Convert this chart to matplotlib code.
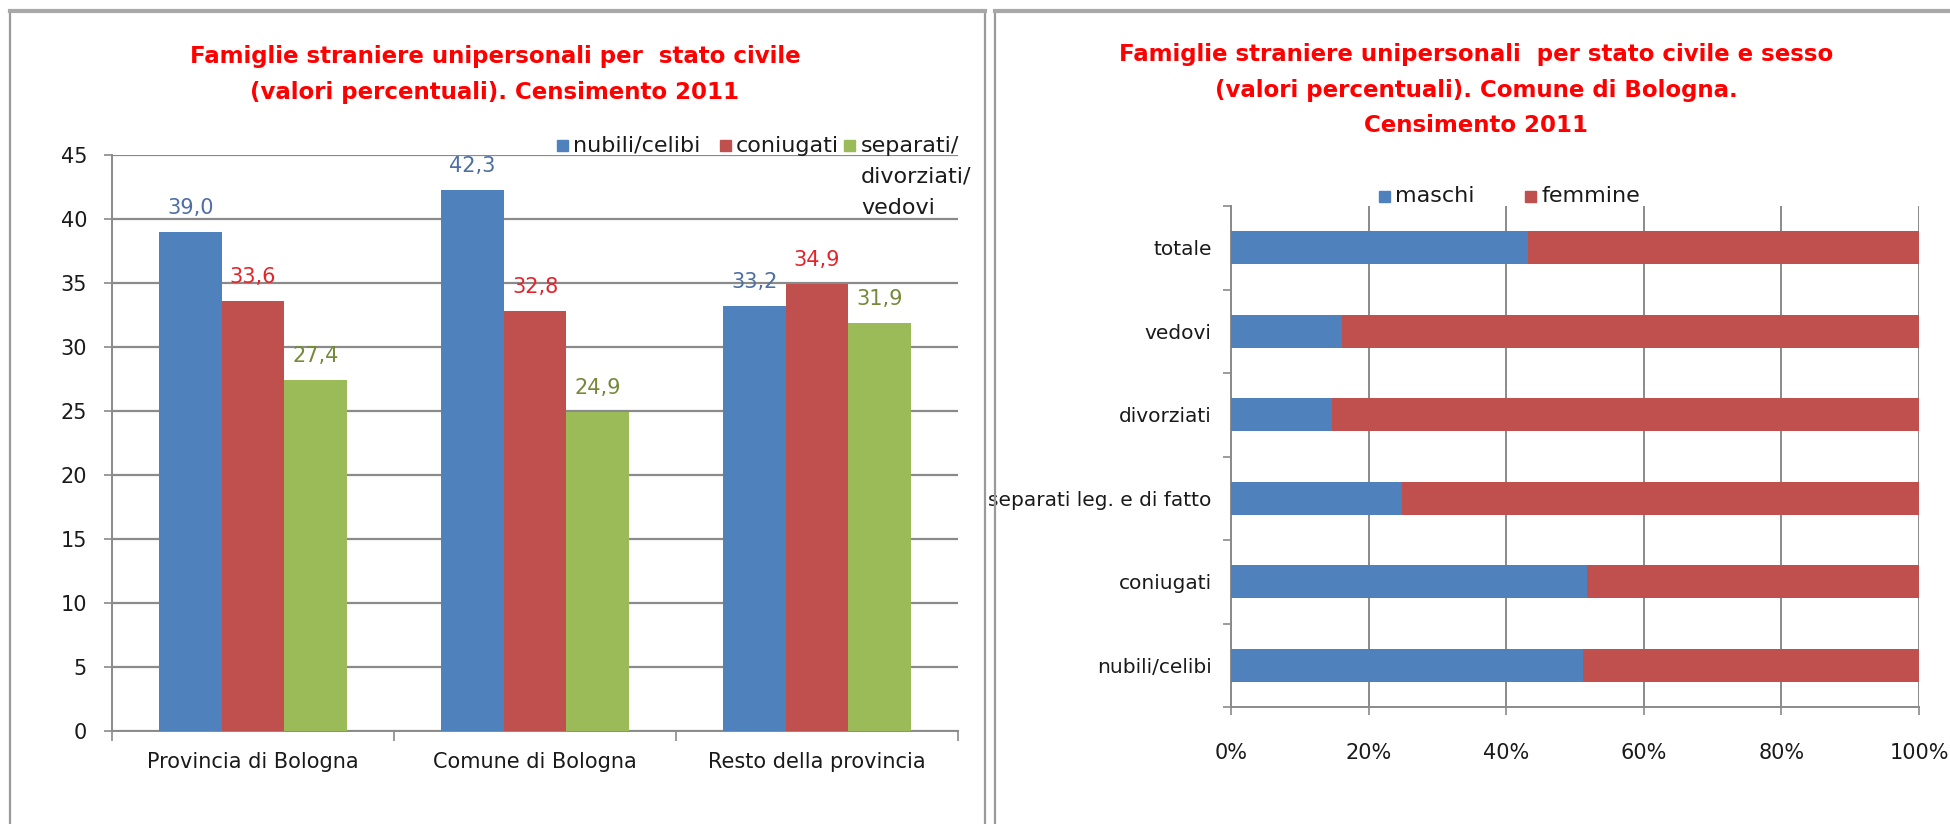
import matplotlib
matplotlib.use("Agg")
import matplotlib.pyplot as plt
from matplotlib.patches import Rectangle
from matplotlib.ticker import PercentFormatter, MultipleLocator

# ── Data ────────────────────────────────────────────────────────────────────────
aree      = ["Provincia di Bologna", "Comune di Bologna", "Resto della provincia"]
nubili    = [39.0, 42.3, 33.2]
coniugati = [33.6, 32.8, 34.9]
separati  = [27.4, 24.9, 31.9]
serie_sx  = ["nubili/celibi", "coniugati", "separati/\ndivorziati/\nvedovi"]

stati   = ["nubili/celibi", "coniugati", "separati leg. e di fatto",
           "divorziati", "vedovi", "totale"]
maschi  = [51.1, 51.8, 24.8, 14.7, 16.1, 43.1]
femmine = [48.9, 48.2, 75.2, 85.3, 83.9, 56.9]
serie_dx = ["maschi", "femmine"]

title_sx = "Famiglie straniere unipersonali per  stato civile\n(valori percentuali). Censimento 2011"
title_dx = ("Famiglie straniere unipersonali  per stato civile e sesso\n"
            "(valori percentuali). Comune di Bologna.\nCensimento 2011")

BLUE, RED, GREEN = '#4F81BD', '#C0504D', '#9BBB59'
LBL_COL = ['#4e6fa3', '#e3252b', '#76893a']
GRID = '#8a8a8a'
TXT = '#1a1a1a'
FS = 15

W, H = 1950, 824
fig = plt.figure(figsize=(W / 100, H / 100), dpi=100)
fig.patch.set_facecolor('white')


def fx(x):
    return x / W


def fy(y):
    return 1 - y / H


# ── Panel borders ───────────────────────────────────────────────────────────────
for x0, x1 in [(10, 985), (995, 1960)]:
    fig.add_artist(Rectangle((fx(x0), -0.02), fx(x1) - fx(x0), fy(11) + 0.02,
                             transform=fig.transFigure, fill=False,
                             edgecolor='#9a9a9a', lw=1.6))
    fig.add_artist(plt.Line2D([fx(x0), fx(x1)], [fy(11), fy(11)],
                              transform=fig.transFigure, color='#a8a8a8', lw=3))

# ── Left chart: grouped bars ────────────────────────────────────────────────────
ax = fig.add_axes([fx(112), fy(731), fx(958) - fx(112), (731 - 155) / H])
w = 1 / 4.5
xs = list(range(len(aree)))
for i, (vals, col) in enumerate(zip([nubili, coniugati, separati], [BLUE, RED, GREEN])):
    pos = [x + (i - 1) * w for x in xs]
    ax.bar(pos, vals, width=w, color=col, zorder=3)
    for p, v in zip(pos, vals):
        ax.annotate(f"{v:.1f}".replace('.', ','), (p, v), xytext=(0, 10),
                    textcoords='offset points', ha='center', va='bottom',
                    fontsize=FS, color=LBL_COL[i])

ax.set_xlim(-0.5, 2.5)
ax.set_ylim(0, 45)
ax.yaxis.set_major_locator(MultipleLocator(5))
ax.grid(axis='y', color=GRID, lw=1.6, zorder=0)
ax.set_xticks(xs)
ax.set_xticklabels(aree)
ax.set_xticks([-0.5, 0.5, 1.5, 2.5], minor=True)
ax.tick_params(axis='x', which='major', length=0, pad=15, labelsize=FS, labelcolor=TXT)
ax.tick_params(axis='x', which='minor', length=7, width=1.2, color=GRID)
ax.tick_params(axis='y', length=6, width=1.2, color=GRID, pad=12, labelsize=FS, labelcolor=TXT)
for s in ['top', 'right']:
    ax.spines[s].set_visible(False)
for s in ['left', 'bottom']:
    ax.spines[s].set_color(GRID)
    ax.spines[s].set_linewidth(1.4)

fig.text(fx(495), fy(74.5), title_sx, ha='center', va='center', fontsize=16.5,
         fontweight='bold', color='#ff0000', linespacing=1.69)

# legend (drawn by hand so the wrapped label keeps its first line aligned)
for (sx, tx), lab, col in zip([(562, 573), (725, 736), (849, 861)], serie_sx, [BLUE, RED, GREEN]):
    fig.add_artist(Rectangle((fx(sx - 5), fy(151)), 11 / W, 11 / H,
                             transform=fig.transFigure, color=col))
    fig.text(fx(tx), fy(145.5), lab.split('\n')[0], ha='left', va='center',
             fontsize=16, color=TXT)
    for k, extra in enumerate(lab.split('\n')[1:]):
        fig.text(fx(tx), fy(145.5 + 31 * (k + 1)), extra, ha='left', va='center',
                 fontsize=16, color=TXT)

# ── Right chart: 100% stacked horizontal bars ──────────────────────────────────
ax2 = fig.add_axes([fx(1231), fy(707), fx(1919) - fx(1231), (707 - 206) / H])
ys = list(range(len(stati)))
ax2.barh(ys, maschi, height=0.4, color=BLUE, zorder=3)
ax2.barh(ys, femmine, left=maschi, height=0.4, color=RED, zorder=3)
ax2.set_xlim(0, 100)
ax2.set_ylim(-0.5, 5.5)
ax2.xaxis.set_major_locator(MultipleLocator(20))
ax2.xaxis.set_major_formatter(PercentFormatter(100, decimals=0))
ax2.grid(axis='x', color=GRID, lw=1.4, zorder=0)
ax2.set_yticks(ys)
ax2.set_yticklabels(stati)
ax2.set_yticks([y - 0.5 for y in ys] + [5.5], minor=True)
ax2.tick_params(axis='y', which='major', length=0, pad=14, labelsize=14.5, labelcolor=TXT)
ax2.tick_params(axis='y', which='minor', length=6, width=1.2, color=GRID)
ax2.tick_params(axis='x', length=6, width=1.2, color=GRID, pad=20, labelsize=FS, labelcolor=TXT)
for s in ['top', 'right']:
    ax2.spines[s].set_visible(False)
for s in ['left', 'bottom']:
    ax2.spines[s].set_color(GRID)
    ax2.spines[s].set_linewidth(1.4)

fig.text(fx(1476), fy(90), title_dx, ha='center', va='center', fontsize=16.5,
         fontweight='bold', color='#ff0000', linespacing=1.69)

for (sx, tx), lab, col in zip([(1384, 1395), (1530, 1542)], serie_dx, [BLUE, RED]):
    fig.add_artist(Rectangle((fx(sx - 5), fy(202)), 11 / W, 11 / H,
                             transform=fig.transFigure, color=col))
    fig.text(fx(tx), fy(196.5), lab, ha='left', va='center', fontsize=16, color=TXT)

fig.savefig("out.png", dpi=100)
